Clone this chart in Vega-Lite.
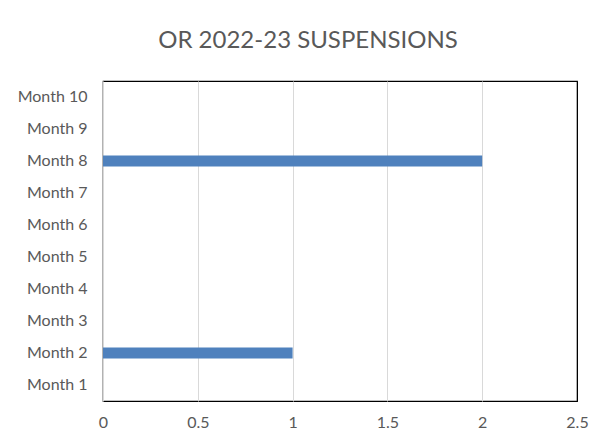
{
  "$schema": "https://vega.github.io/schema/vega-lite/v6.json",
  "width": 474,
  "height": 320,
  "autosize": "none",
  "padding": {"left": 103, "top": 81, "right": 28, "bottom": 44},
  "background": "white",
  "title": {
    "text": "OR 2022-23 SUSPENSIONS",
    "font": "Lato",
    "fontSize": 24,
    "fontWeight": "normal",
    "color": "#595959",
    "anchor": "middle",
    "dx": -32,
    "offset": 28
  },
  "data": {
    "values": [
      {"month": "Month 1", "count": 0},
      {"month": "Month 2", "count": 1},
      {"month": "Month 3", "count": 0},
      {"month": "Month 4", "count": 0},
      {"month": "Month 5", "count": 0},
      {"month": "Month 6", "count": 0},
      {"month": "Month 7", "count": 0},
      {"month": "Month 8", "count": 2},
      {"month": "Month 9", "count": 0},
      {"month": "Month 10", "count": 0}
    ]
  },
  "mark": {"type": "bar", "color": "#4f81bd"},
  "encoding": {
    "y": {
      "field": "month",
      "type": "nominal",
      "sort": ["Month 10", "Month 9", "Month 8", "Month 7", "Month 6", "Month 5", "Month 4", "Month 3", "Month 2", "Month 1"],
      "scale": {"paddingInner": 0.65, "paddingOuter": 0.325},
      "axis": {
        "title": null,
        "ticks": false,
        "domain": false,
        "labelPadding": 16,
        "labelFont": "Lato",
        "labelFontSize": 16,
        "labelColor": "#595959"
      }
    },
    "x": {
      "field": "count",
      "type": "quantitative",
      "scale": {"domain": [0, 2.5], "nice": false},
      "axis": {
        "title": null,
        "values": [0, 0.5, 1, 1.5, 2, 2.5],
        "format": "~g",
        "ticks": false,
        "domain": false,
        "labelPadding": 13,
        "labelFont": "Lato",
        "labelFontSize": 16,
        "labelColor": "#595959",
        "labelFlush": false,
        "gridColor": {"condition": {"test": "datum.value === 2.5", "value": "#000000"}, "value": "#d9d9d9"},
        "gridWidth": 1
      }
    }
  },
  "config": {
    "view": {"stroke": "#000000", "strokeWidth": 1.2}
  }
}
